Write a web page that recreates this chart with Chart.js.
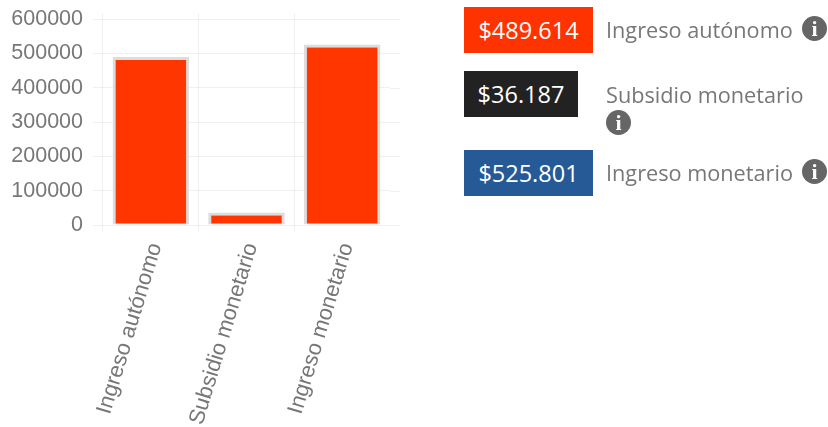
<!DOCTYPE html>
<html><head><meta charset="utf-8">
<script src="https://cdn.jsdelivr.net/npm/chart.js@4"></script>
<style>
html,body{margin:0;padding:0;background:#fff;width:828px;height:427px;overflow:hidden}
#wrap{position:absolute;left:0;top:0;width:420px;height:427px}
#side{filter:blur(.35px)}
.box{position:absolute;left:464px;height:46px;text-align:center;color:#fff;font:23.5px/46px "Open Sans",sans-serif}
.lab{position:absolute;left:606px;color:#777;font:21.7px/30px "Open Sans",sans-serif;white-space:nowrap}
.ic{position:absolute;width:25px;height:25px;border-radius:50%;background:#666;color:#fff;font:bold 22px/25px "Liberation Serif",serif;text-align:center}
</style></head><body>
<div id="wrap"><canvas id="c" width="420" height="427" style="filter:blur(.45px)"></canvas></div>
<div id="side"></div>
<script>
const categories=["Ingreso autónomo","Subsidio monetario","Ingreso monetario"];
const values=[489614,36187,525801];
const valueLabels=["$489.614","$36.187","$525.801"];
const tickValues=[0,100000,200000,300000,400000,500000,600000];
const barColor="#ff3600";
const barEdge="rgba(220,220,220,1)";
const boxColors=["#ff3300","#222222","#265a96"];

const sideLayout=[
 {top:7,w:129,labTop:15,icL:802,icT:16},
 {top:71,w:114,labTop:80,icL:606,icT:110},
 {top:150,w:129,labTop:158,icL:802,icT:159}];
const side=document.getElementById('side');
categories.forEach((n,i)=>{const s=sideLayout[i];
 side.insertAdjacentHTML('beforeend',
 `<div class="box" style="top:${s.top}px;width:${s.w}px;background:${boxColors[i]}">${valueLabels[i]}</div>`+
 `<div class="lab" style="top:${s.labTop}px">${n}</div>`+
 `<div class="ic" style="left:${s.icL}px;top:${s.icT}px">i</div>`);
});

const gridExt={id:'gridExt',beforeDatasetsDraw(ch){
 const y=ch.scales.y,a=ch.chartArea,c=ch.ctx;
 c.save();c.strokeStyle='rgba(0,0,0,0.06)';c.lineWidth=1;
 y.ticks.forEach(t=>{const p=Math.round(y.getPixelForValue(t.value))+.5;
  c.beginPath();c.moveTo(a.right,p);c.lineTo(a.right+10,p);c.stroke();});
 c.restore();}};

new Chart(document.getElementById('c'),{
 type:'bar',
 plugins:[gridExt],
 data:{labels:categories,datasets:[{data:values,backgroundColor:barColor,borderColor:barEdge,borderWidth:{top:3,left:3,right:3,bottom:1},borderSkipped:false,barPercentage:.8,categoryPercentage:1}]},
 options:{responsive:false,animation:false,
  layout:{padding:{top:13,right:30,left:0,bottom:0}},
  plugins:{legend:{display:false},tooltip:{enabled:false}},
  scales:{
   y:{min:0,max:617500,
    afterBuildTicks(s){s.ticks=tickValues.map(v=>({value:v}));},
    afterFit(s){s.width=103;s.paddingTop=0;s.paddingBottom=0;},
    border:{display:false},
    grid:{color:'rgba(0,0,0,0.06)',tickLength:10},
    ticks:{color:'#777',font:{family:'"Liberation Sans"',size:21.5},padding:10,callback:v=>String(v)}},
   x:{afterFit(s){s.height=202;},
    border:{display:false},
    grid:{color:c=>c.tick?'rgba(0,0,0,0.06)':'rgba(0,0,0,0)',tickLength:7},
    ticks:{color:'#777',font:{family:'"Liberation Sans"',size:22},minRotation:73,maxRotation:73,padding:8,labelOffset:5}}
  }}
});
</script></body></html>
